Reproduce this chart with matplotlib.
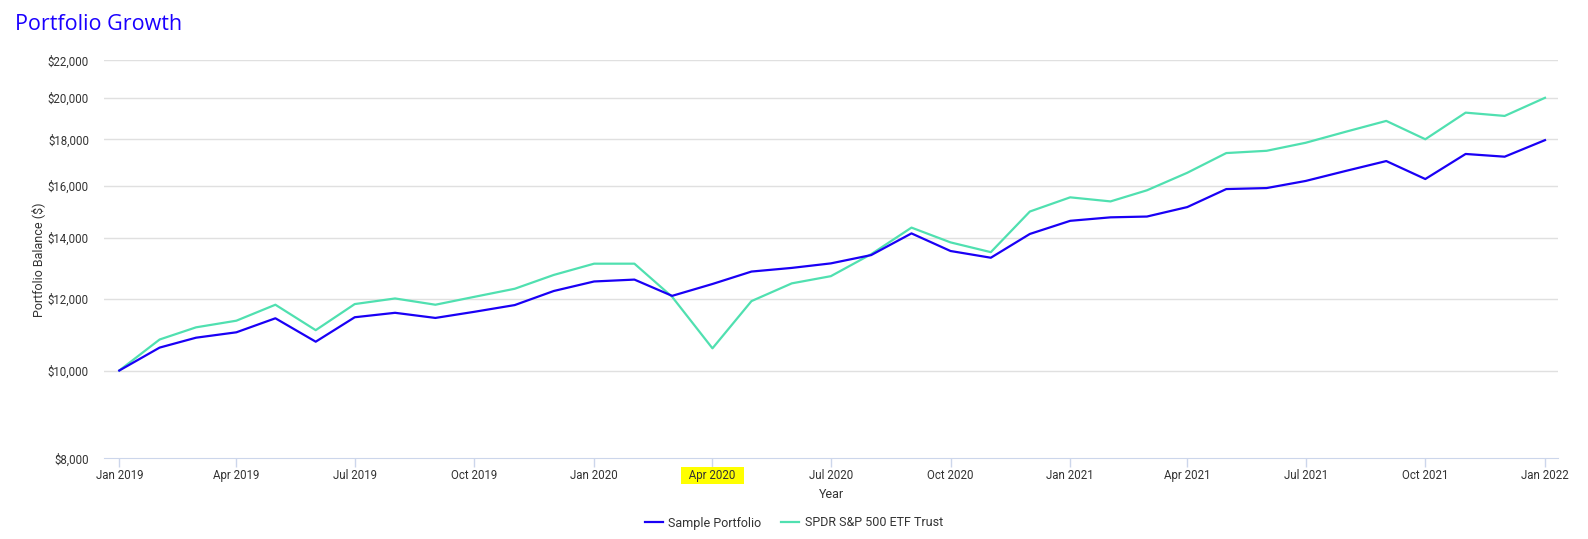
import matplotlib
matplotlib.use("Agg")
import matplotlib.pyplot as plt
import matplotlib.dates as mdates
from matplotlib.ticker import FixedLocator, FuncFormatter, NullLocator
import pandas as pd

months = pd.date_range("2019-01-01", periods=37, freq="MS")

sample_portfolio = [
    10000, 10600, 10870, 11020, 11420, 10760, 11450, 11580, 11430, 11610, 11810, 12240,
    12540, 12600, 12090, 12460, 12860, 12980, 13130, 13410, 14170, 13550, 13320, 14150,
    14630, 14760, 14790, 15150, 15860, 15900, 16190, 16610, 17030, 16270, 17340, 17220,
    17960,
]
spdr_sp500 = [
    10000, 10820, 11160, 11350, 11820, 11080, 11840, 12010, 11820, 12060, 12310, 12750,
    13120, 13120, 12060, 10580, 11930, 12480, 12710, 13440, 14380, 13850, 13510, 14980,
    15530, 15370, 15810, 16530, 17380, 17480, 17840, 18350, 18860, 18000, 19260, 19100,
    20000,
]
y_ticks = [8000, 10000, 12000, 14000, 16000, 18000, 20000, 22000]
highlight = 'Apr 2020'

plt.rcParams['font.family'] = ['Roboto', 'DejaVu Sans']

fig = plt.figure(figsize=(15.88, 5.39), dpi=100)
ax = fig.add_axes([0.0657, 0.1497, 0.9811 - 0.0657, 0.8881 - 0.1497])

ax.plot(months, sample_portfolio, color='#1a00f5', lw=1.6, label='Sample Portfolio', zorder=3)
ax.plot(months, spdr_sp500, color='#50e0b0', lw=1.6, label='SPDR S&P 500 ETF Trust', zorder=2)

# log axis with fixed dollar ticks
ax.set_yscale('log')
ax.set_ylim(8000, 22000)
ax.yaxis.set_major_locator(FixedLocator(y_ticks))
ax.yaxis.set_minor_locator(NullLocator())
ax.yaxis.set_major_formatter(FuncFormatter(lambda v, p: f"${v:,.0f}"))
for v in y_ticks[1:]:
    ax.axhline(v, color='#e0e0e0', lw=1, zorder=1)

ax.set_xlim(months[0] - pd.Timedelta(days=11.5), months[-1] + pd.Timedelta(days=10))
ax.xaxis.set_major_locator(mdates.MonthLocator(bymonth=[1, 4, 7, 10]))
ax.xaxis.set_major_formatter(mdates.DateFormatter('%b %Y'))

for s in ['top', 'right', 'left']:
    ax.spines[s].set_visible(False)
ax.spines['bottom'].set_color('#ccd6eb')
ax.tick_params(axis='y', length=0, pad=11, labelsize=8.3, labelcolor='#333333')
ax.tick_params(axis='x', length=6.5, width=1, color='#ccd6eb', pad=1.5, labelsize=8.3, labelcolor='#333333')

# highlighted tick label
fig.canvas.draw()
ticks = ax.get_xticks()
labels = [t.get_text() for t in ax.get_xticklabels()]
ax.set_xticks(ticks)
ax.set_xticklabels([('  ' + t + '  ') if t == highlight else t for t in labels])
for lbl in ax.get_xticklabels():
    if lbl.get_text().strip() == highlight:
        lbl.set_bbox(dict(facecolor='#ffff00', edgecolor='none', pad=1.5))

ax.set_xlabel('Year', fontsize=9, color='#333333', labelpad=4)
ax.set_ylabel('Portfolio Balance ($)', fontsize=9, color='#333333', labelpad=2)

fig.text(0.0095, 1 - 25 / 539, 'Portfolio Growth', fontsize=15.5, color='#1a00ff',
         family=['Open Sans', 'DejaVu Sans'], weight=500, va='center', ha='left')

fig.legend(loc='center', bbox_to_anchor=(0.5, 1 - 523 / 539), ncol=2, frameon=False,
           fontsize=9, handlelength=1.4, handletextpad=0.45, columnspacing=1.6,
           labelcolor='#333333')

fig.savefig('out.png', dpi=100)
